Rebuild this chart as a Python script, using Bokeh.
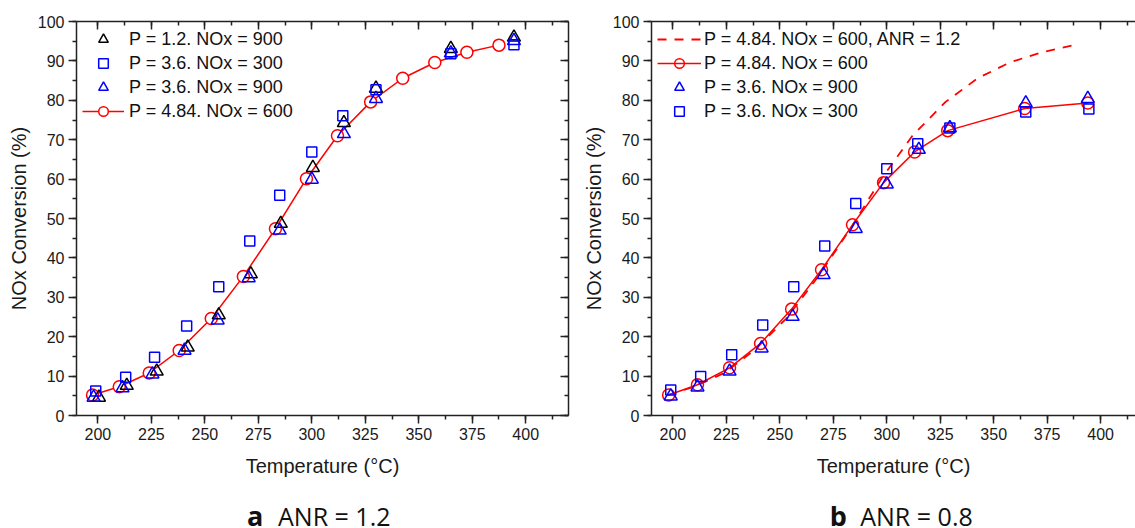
from bokeh.plotting import figure
from bokeh.models import (Range1d, LinearAxis, SingleIntervalTicker, Legend,
                          LegendItem, Label, CustomJSTickFormatter)
from bokeh.layouts import row, column
from bokeh.embed import file_html
from bokeh.resources import INLINE

# ---------------- data: panel a (ANR = 1.2) ----------------
a_red_T = [197.5, 210, 224, 238, 253, 268, 283, 297.5, 312, 327.5, 342.5, 357.5, 372.5, 387.5]
a_red_V = [5.2, 7.3, 10.8, 16.5, 24.6, 35.3, 47.4, 60.1, 71.0, 79.6, 85.6, 89.6, 92.2, 94.0]
a_blk_T = [200.5, 213.5, 227.5, 242, 256.5, 271.5, 285.5, 300.5, 315, 330, 365, 394.5]
a_blk_V = [4.6, 7.6, 11.2, 17.3, 25.5, 35.9, 48.7, 62.9, 74.3, 83.0, 93.1, 96.0]
a_btri_T = [198, 211.5, 225.5, 240.5, 256, 270.5, 285, 300, 315, 330, 365, 394.5]
a_btri_V = [4.6, 7.0, 10.5, 16.5, 24.2, 34.9, 47.0, 59.9, 71.5, 80.4, 92.0, 95.1]
a_bsq_T = [199, 213, 226.5, 241.5, 256.5, 271, 285, 300, 314.5, 330, 365, 394.5]
a_bsq_V = [6.2, 9.7, 14.8, 22.7, 32.7, 44.3, 55.9, 66.9, 76.1, 82.7, 91.8, 94.1]

# ---------------- data: panel b (ANR = 0.8) ----------------
b_red_T = [198, 211.5, 226.5, 241, 255.5, 269.5, 284, 298.5, 313, 328.5, 364.5, 394]
b_red_V = [5.2, 7.8, 12.1, 18.3, 27.0, 37.0, 48.4, 59.1, 66.9, 72.3, 77.9, 79.3]
b_btri_T = [199, 211.5, 226.5, 241.5, 256, 270.5, 285.5, 300, 315, 329.5, 365, 394]
b_btri_V = [4.9, 7.2, 11.2, 17.1, 25.1, 35.7, 47.4, 58.7, 67.5, 73.0, 79.3, 80.4]
b_bsq_T = [199, 213, 227.5, 242, 256.5, 271, 285.5, 300, 314.5, 329.5, 365, 394.5]
b_bsq_V = [6.5, 9.9, 15.4, 23.0, 32.7, 43.0, 53.8, 62.6, 69.0, 73.0, 77.0, 77.8]

x_label = "Temperature (°C)"
y_label = "NOx Conversion (%)"
a_labels = ["P = 1.2. NOx = 900", "P = 3.6. NOx = 300", "P = 3.6. NOx = 900", "P = 4.84. NOx = 600"]
b_labels = ["P = 4.84. NOx = 600, ANR = 1.2", "P = 4.84. NOx = 600", "P = 3.6. NOx = 900", "P = 3.6. NOx = 300"]
captions = [("a", "ANR = 1.2"), ("b", "ANR = 0.8")]

FONT = "Liberation Sans"
RED, BLUE, BLACK = "#ff0000", "#0000ff", "#000000"
EMPTY = CustomJSTickFormatter(code="return ''")
MAIN_H, CAP_H = 481, 47


def style_axis(ax, outward=True, labels=True):
    ax.axis_line_width = 1.5
    ax.axis_line_color = "#222222"
    ax.major_tick_line_width = 1.5
    ax.minor_tick_line_width = 1.5
    ax.major_tick_line_color = "#222222"
    ax.minor_tick_line_color = "#222222"
    if outward:
        ax.major_tick_out, ax.major_tick_in = 8, 0
        ax.minor_tick_out, ax.minor_tick_in = 4, 0
    else:
        ax.major_tick_out, ax.major_tick_in = 0, 8
        ax.minor_tick_out, ax.minor_tick_in = 0, 4
    ax.major_label_text_font = FONT
    ax.major_label_text_color = "#1a1a1a"
    ax.major_label_text_font_size = "16px"
    ax.major_label_standoff = 4 if labels else 0
    if not labels:
        ax.formatter = EMPTY
    ax.axis_label_text_font = FONT
    ax.axis_label_text_font_size = "20px"
    ax.axis_label_text_font_style = "normal"
    ax.axis_label_text_color = "#1a1a1a"


def make_fig(width, left, right, x_range, right_axis):
    p = figure(width=width, height=MAIN_H, x_range=x_range, y_range=Range1d(0, 100),
               output_backend="svg", toolbar_location=None,
               min_border_left=left, min_border_right=right,
               min_border_top=21, min_border_bottom=66)
    p.outline_line_color = None
    p.xgrid.visible = False
    p.ygrid.visible = False
    p.xaxis.ticker = SingleIntervalTicker(interval=25, num_minor_ticks=2)
    p.yaxis.ticker = SingleIntervalTicker(interval=10, num_minor_ticks=2)
    style_axis(p.xaxis[0])
    style_axis(p.yaxis[0])
    p.xaxis.axis_label = x_label
    p.yaxis.axis_label = y_label
    p.xaxis.axis_label_standoff = 12
    p.yaxis.axis_label_standoff = 5
    top = LinearAxis(ticker=SingleIntervalTicker(interval=25, num_minor_ticks=2))
    style_axis(top, outward=False, labels=False)
    p.add_layout(top, "above")
    if right_axis:
        rt = LinearAxis(ticker=SingleIntervalTicker(interval=10, num_minor_ticks=2))
        style_axis(rt, outward=False, labels=False)
        p.add_layout(rt, "right")
    return p


def make_caption(width, left, right, x_range, letter, text, x_letter, x_text):
    c = figure(width=width, height=CAP_H, x_range=x_range, y_range=Range1d(0, CAP_H),
               output_backend="svg", toolbar_location=None,
               x_axis_location=None, y_axis_location=None,
               min_border_left=left, min_border_right=right,
               min_border_top=0, min_border_bottom=0)
    c.outline_line_color = None
    c.xgrid.visible = False
    c.ygrid.visible = False
    c.add_layout(Label(x=x_letter, y=13, text=letter, text_font="Open Sans",
                       text_font_style="bold", text_font_size="27px",
                       text_baseline="middle", text_color="#111111"))
    c.add_layout(Label(x=x_text, y=13, text=text, text_font="Open Sans",
                       text_font_size="25px", text_baseline="middle",
                       text_color="#111111"))
    return c


def make_legend(items, glyph_width, standoff):
    return Legend(items=items, location="top_left", margin=0, padding=6,
                  glyph_width=glyph_width, glyph_height=24, label_height=24, spacing=0,
                  label_standoff=standoff, label_text_font=FONT, label_text_font_size="18px",
                  label_text_color="#111111", background_fill_alpha=0, border_line_alpha=0)


# ---------------- panel a ----------------
xa = Range1d(190, 420)
pa = make_fig(578, 76, 10, xa, True)
ra_line = pa.line(a_red_T, a_red_V, line_color=RED, line_width=1.5)
ra_circ = pa.scatter(a_red_T, a_red_V, marker="circle", size=12, fill_color="white",
                     line_color=RED, line_width=1.5)
ra_blk = pa.scatter(a_blk_T, a_blk_V, marker="triangle", size=13, fill_color=None,
                    line_color=BLACK, line_width=1.5)
ra_bsq = pa.scatter(a_bsq_T, a_bsq_V, marker="square", size=10, fill_color=None,
                    line_color=BLUE, line_width=1.5)
ra_btri = pa.scatter(a_btri_T, a_btri_V, marker="triangle", size=13, fill_color=None,
                     line_color=BLUE, line_width=1.5)
pa.add_layout(make_legend([
    LegendItem(label=a_labels[0], renderers=[ra_blk]),
    LegendItem(label=a_labels[1], renderers=[ra_bsq]),
    LegendItem(label=a_labels[2], renderers=[ra_btri]),
    LegendItem(label=a_labels[3], renderers=[ra_line, ra_circ]),
], 42, 5))
ca = make_caption(578, 76, 10, xa, captions[0][0], captions[0][1], 269.7, 284.2)

# ---------------- panel b ----------------
xb = Range1d(190, 416.3)
pb = make_fig(557, 73, 0, xb, False)
rb_dash = pb.line(a_red_T, a_red_V, line_color=RED, line_width=1.8, line_dash="9 8")
rb_line = pb.line(b_red_T, b_red_V, line_color=RED, line_width=1.5)
rb_circ = pb.scatter(b_red_T, b_red_V, marker="circle", size=12, fill_color=None,
                     line_color=RED, line_width=1.5)
rb_btri = pb.scatter(b_btri_T, b_btri_V, marker="triangle", size=13, fill_color=None,
                     line_color=BLUE, line_width=1.5)
rb_bsq = pb.scatter(b_bsq_T, b_bsq_V, marker="square", size=10, fill_color=None,
                    line_color=BLUE, line_width=1.5)
pb.add_layout(make_legend([
    LegendItem(label=b_labels[0], renderers=[rb_dash]),
    LegendItem(label=b_labels[1], renderers=[rb_line, rb_circ]),
    LegendItem(label=b_labels[2], renderers=[rb_btri]),
    LegendItem(label=b_labels[3], renderers=[rb_bsq]),
], 44, 3))
cb = make_caption(557, 73, 0, xb, captions[1][0], captions[1][1], 273.4, 287.6)

layout = column(row(pa, pb), row(ca, cb))
open("out.html", "w").write(file_html(layout, INLINE))
